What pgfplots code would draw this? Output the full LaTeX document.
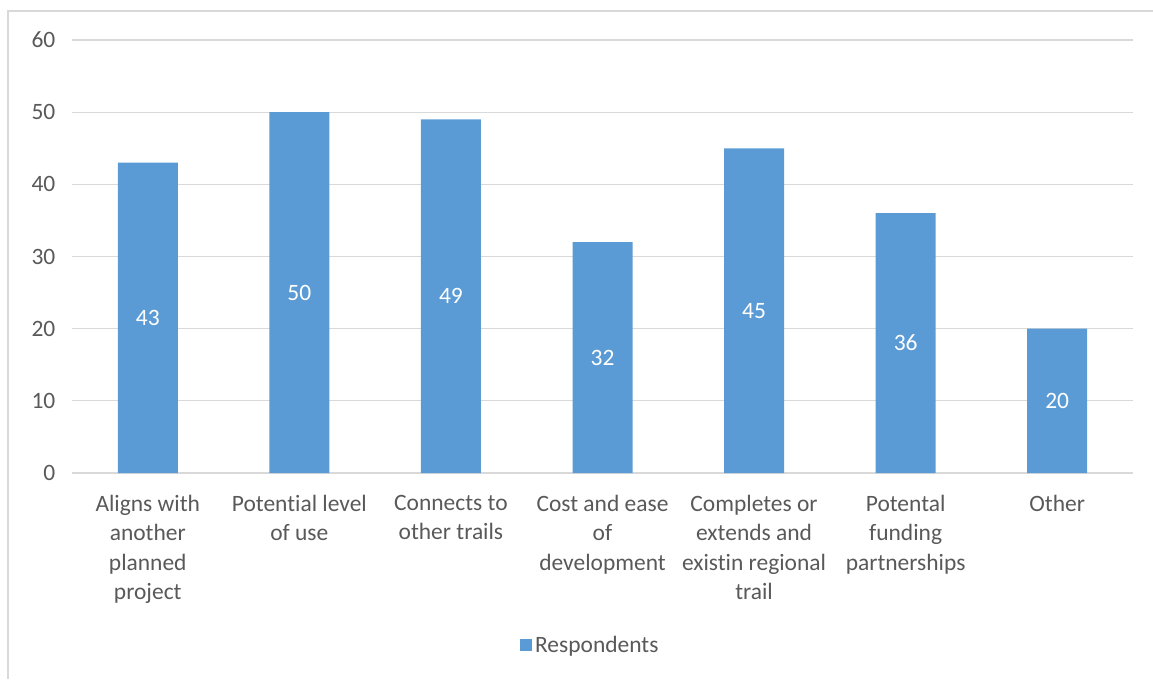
\documentclass[border=0pt]{standalone}
\usepackage{pgfplots}
\pgfplotsset{compat=1.18}
\usepackage{fontspec}
\setmainfont{Carlito}[Ligatures=NoCommon]
\definecolor{barblue}{HTML}{5B9BD5}
\definecolor{gridgray}{HTML}{D9D9D9}
\definecolor{txtgray}{HTML}{595959}
\begin{document}
\begin{tikzpicture}
\useasboundingbox (0,0) rectangle (864.75pt,509.25pt);
\draw[gridgray, line width=1pt] (6pt,0) -- (6pt,501pt) -- (864.75pt,501pt);
\begin{axis}[
  at={(54pt,154.5pt)}, anchor=south west,
  scale only axis, width=795.75pt, height=324.75pt,
  xmin=-0.5, xmax=6.5, ymin=0, ymax=60,
  ytick={0,10,...,60},
  xtick={0,...,6},
  xticklabels={{Aligns with\\another\\planned\\project},{Potential level\\of use},{Connects to\\other trails},{Cost and ease\\of\\development},{Completes or\\extends and\\existin regional\\trail},{Potental\\funding\\partnerships},{Other}},
  major tick length=0pt,
  ymajorgrids, grid style={gridgray, line width=0.9pt},
  axis x line*=bottom, axis y line*=left,
  x axis line style={draw=gridgray, line width=1pt, -},
  y axis line style={draw=none},
  /pgf/number format/assume math mode=true,
  ticklabel style={font=\fontsize{17.6}{22.1}\selectfont, text=txtgray},
  yticklabel style={xshift=-9pt},
  xticklabel style={align=center, yshift=-13pt},
  legend style={at={(0.489,-0.397)}, anchor=center, draw=none, font=\fontsize{17.6}{22.1}\selectfont, text=txtgray, legend cell align=left},
  legend image code/.code={\fill[barblue] (-2pt,-4.5pt) rectangle (7pt,4.5pt);},
]
\addplot[ybar, bar width=45pt, fill=barblue, draw=none,
  visualization depends on={rawy \as \ry},
  nodes near coords,
  every node near coord/.append style={anchor=center, text=white, font=\fontsize{17.6}{22.1}\selectfont, yshift=-\ry*2.70625pt},
  /pgf/number format/assume math mode=true]
  coordinates {(0,43) (1,50) (2,49) (3,32) (4,45) (5,36) (6,20)};
\addlegendentry{Respondents}
\end{axis}
\end{tikzpicture}
\end{document}
